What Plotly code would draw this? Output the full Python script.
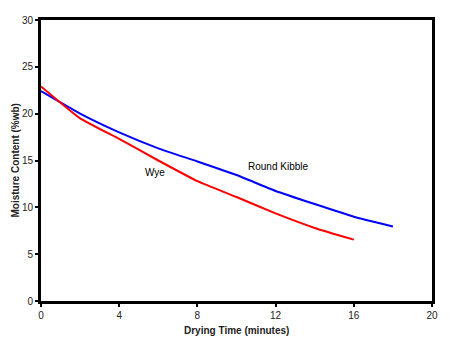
import plotly.graph_objects as go

time_round = [0, 2, 4, 6, 8, 10, 12, 14, 16, 18]
round_kibble = [22.4, 20.0, 18.0, 16.3, 14.9, 13.45, 11.75, 10.35, 9.0, 7.95]
time_wye = [0, 2, 4, 6, 8, 10, 12, 14, 16]
wye = [22.9, 19.5, 17.3, 15.0, 12.8, 11.1, 9.35, 7.8, 6.55]

FONT = "Liberation Sans, Arial"

fig = go.Figure()
fig.add_trace(go.Scatter(x=time_round, y=round_kibble, mode="lines",
                         line=dict(color="#0000ff", width=2, shape="spline", smoothing=0.4),
                         name="Round Kibble"))
fig.add_trace(go.Scatter(x=time_wye, y=wye, mode="lines",
                         line=dict(color="#ff0000", width=2, shape="spline", smoothing=0.4),
                         name="Wye"))

fig.add_annotation(x=5.85, y=13.7, text="Wye", showarrow=False,
                   font=dict(family=FONT, size=10, color="black"))
fig.add_annotation(x=12.1, y=14.4, text="Round Kibble", showarrow=False,
                   font=dict(family=FONT, size=10, color="black"))

# axis titles
fig.add_annotation(xref="paper", yref="paper", x=0.5, y=0, yshift=-29,
                   xanchor="center", yanchor="middle",
                   text="<b>Drying Time (minutes)</b>", showarrow=False,
                   font=dict(family=FONT, size=10, color="#222"))
fig.add_annotation(xref="paper", yref="paper", x=0, y=0.5, xshift=-26, textangle=-90,
                   xanchor="center", yanchor="middle",
                   text="<b>Moisture Content (%wb)</b>", showarrow=False,
                   font=dict(family=FONT, size=10, color="#222"))

axis_common = dict(showline=True, linecolor="black", linewidth=3, mirror=True,
                   ticks="outside", ticklen=3, tickwidth=2, tickcolor="black",
                   showgrid=False, zeroline=False, automargin=False,
                   tickfont=dict(family=FONT, size=10, color="#222"))

fig.update_layout(
    width=450, height=359,
    margin=dict(l=41, r=18, t=20, b=58),
    paper_bgcolor="white", plot_bgcolor="white",
    showlegend=False,
    xaxis=dict(range=[0, 20], tickvals=[0, 4, 8, 12, 16, 20], **axis_common),
    yaxis=dict(range=[0, 30], tickvals=[0, 5, 10, 15, 20, 25, 30], **axis_common),
)

fig.write_html("out.html", config={"displayModeBar": False},
               post_script="document.body.style.margin='0px';")
